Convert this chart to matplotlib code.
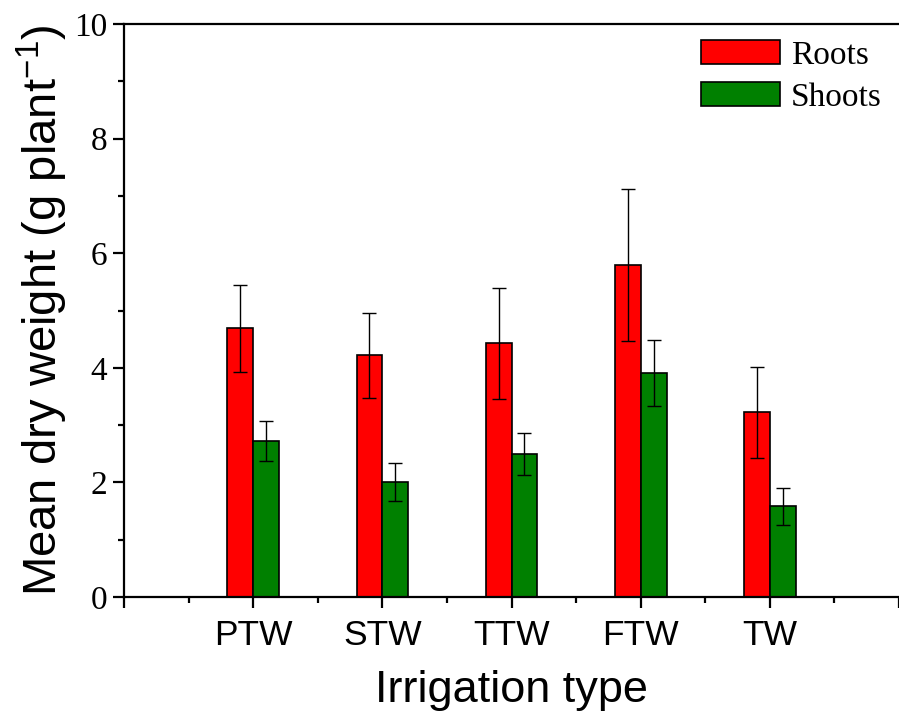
import numpy as np
import matplotlib
matplotlib.use("Agg")
import matplotlib.pyplot as plt
from matplotlib.ticker import MultipleLocator, FixedLocator

categories = ["PTW", "STW", "TTW", "FTW", "TW"]
roots = [4.69, 4.22, 4.43, 5.79, 3.22]
roots_err = [0.76, 0.74, 0.97, 1.33, 0.79]
shoots = [2.72, 2.00, 2.50, 3.91, 1.58]
shoots_err = [0.35, 0.33, 0.37, 0.57, 0.32]

serif = "Liberation Serif"
sans = "Liberation Sans"
plt.rcParams["mathtext.fontset"] = "custom"
plt.rcParams["mathtext.rm"] = sans
plt.rcParams["mathtext.default"] = "regular"

fig = plt.figure(figsize=(8.99, 7.13), dpi=100)
ax = fig.add_axes([0.138, 0.1627, 0.862, 0.8036])

x = np.arange(1, len(categories) + 1)
w = 0.2
err_kw = dict(ecolor="black", elinewidth=1.0, capsize=5, capthick=1.0)
ax.bar(x - w / 2, roots, w, yerr=roots_err, color="#ff0000",
       edgecolor="black", linewidth=1.2, label="Roots", error_kw=err_kw)
ax.bar(x + w / 2, shoots, w, yerr=shoots_err, color="#008000",
       edgecolor="black", linewidth=1.2, label="Shoots", error_kw=err_kw)

ax.set_xlim(0, 6)
ax.set_ylim(0, 10)

ax.spines["right"].set_visible(False)
for s in ["left", "bottom", "top"]:
    ax.spines[s].set_linewidth(1.6)

ax.xaxis.set_major_locator(FixedLocator([0, 1, 2, 3, 4, 5, 6]))
ax.set_xticklabels([""] + categories + [""], fontfamily=sans, fontsize=25.5)
ax.xaxis.set_minor_locator(MultipleLocator(0.5))
ax.yaxis.set_major_locator(MultipleLocator(2))
ax.yaxis.set_minor_locator(MultipleLocator(1))
for lbl in ax.get_yticklabels():
    lbl.set_fontfamily(serif)
    lbl.set_fontsize(24)

ax.tick_params(which="major", direction="out", length=8, width=1.6)
ax.tick_params(which="minor", direction="out", length=4, width=1.6)
ax.tick_params(top=False, which="both")
ax.tick_params(axis="y", pad=4)
ax.tick_params(axis="x", pad=8)

ax.set_xlabel("Irrigation type", fontfamily=sans, fontsize=32.5, labelpad=13)
ax.set_ylabel("Mean dry weight (g plant$^{-1}$)", fontfamily=sans,
              fontsize=34, labelpad=3)

leg = ax.legend(loc="upper right", bbox_to_anchor=(1.004, 1.007),
                frameon=False, prop={"family": serif, "size": 24},
                handlelength=2.35, handleheight=0.7, handletextpad=0.35,
                labelspacing=0.35, borderaxespad=0.2)

fig.savefig("out.png", dpi=100)
